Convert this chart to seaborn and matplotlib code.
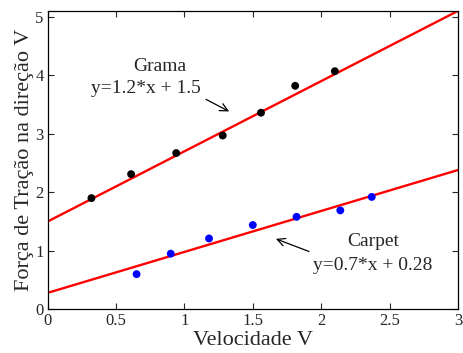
import numpy as np
import pandas as pd
import matplotlib
matplotlib.use("Agg")
import matplotlib.pyplot as plt
import seaborn as sns

# Measured traction force vs. speed on two surfaces
grama_v = [0.32, 0.61, 0.94, 1.28, 1.56, 1.81, 2.10]
grama_f = [1.90, 2.31, 2.67, 2.97, 3.36, 3.82, 4.07]
carpet_v = [0.65, 0.90, 1.18, 1.50, 1.82, 2.14, 2.37]
carpet_f = [0.60, 0.95, 1.21, 1.44, 1.58, 1.69, 1.92]

# Linear fit coefficients
grama_fit = (1.2, 1.5)
carpet_fit = (0.7, 0.28)
fit_range = [0.0, 3.0]

x_ticks = [0, 0.5, 1, 1.5, 2, 2.5, 3]
x_tick_labels = ["0", "0.5", "1", "1.5", "2", "2.5", "3"]
y_ticks = [0, 1, 2, 3, 4, 5]

sns.set_style("ticks")
plt.rcParams["font.family"] = ["Liberation Serif", "DejaVu Serif"]
plt.rcParams["mathtext.fontset"] = "stix"

fig = plt.figure(figsize=(4.63, 3.53), dpi=100)
ax = fig.add_axes([0.103, 0.124, 0.886, 0.845])

pts = pd.DataFrame({
    "v": grama_v + carpet_v,
    "f": grama_f + carpet_f,
    "s": ["Grama"] * len(grama_v) + ["Carpet"] * len(carpet_v),
})
sns.scatterplot(data=pts, x="v", y="f", hue="s",
                palette={"Grama": "black", "Carpet": "blue"},
                s=32, edgecolor="none", legend=False, ax=ax, zorder=3)

xs = np.array(fit_range)
fits = pd.DataFrame({
    "v": np.concatenate([xs, xs]),
    "f": np.concatenate([grama_fit[0] * xs + grama_fit[1],
                         carpet_fit[0] * xs + carpet_fit[1]]),
    "s": ["Grama"] * 2 + ["Carpet"] * 2,
})
sns.lineplot(data=fits, x="v", y="f", units="s", estimator=None,
             color="red", lw=1.7, ax=ax, legend=False, zorder=2)

ax.set_xlim(0, 3)
ax.set_ylim(0, 5.1)
ax.set_xticks(x_ticks)
ax.set_xticklabels(x_tick_labels)
ax.set_yticks(y_ticks)
ax.tick_params(direction="in", top=True, right=True, labelsize=12,
               length=4, width=0.8, pad=3)
for sp in ax.spines.values():
    sp.set_linewidth(0.9)
    sp.set_color("black")

ax.set_xlabel("Velocidade V", fontsize=16, labelpad=1)
ax.set_ylabel("Força de Tração na direção V", fontsize=16, labelpad=1)

ax.text(0.82, 4.15, "Grama", fontsize=14, ha="center", va="center")
ax.text(0.72, 3.77, "y=1.2*x + 1.5", fontsize=14, ha="center", va="center")
ax.annotate("", xy=(1.345, 3.36), xytext=(1.14, 3.61),
            arrowprops=dict(arrowstyle="->", color="black", lw=0.9,
                            mutation_scale=14))

ax.text(2.38, 1.16, "Carpet", fontsize=14, ha="center", va="center")
ax.text(2.38, 0.75, "y=0.7*x + 0.28", fontsize=14, ha="center", va="center")
ax.annotate("", xy=(1.65, 1.22), xytext=(1.93, 0.97),
            arrowprops=dict(arrowstyle="->", color="black", lw=0.9,
                            mutation_scale=14))

fig.savefig("out.png", dpi=100)
